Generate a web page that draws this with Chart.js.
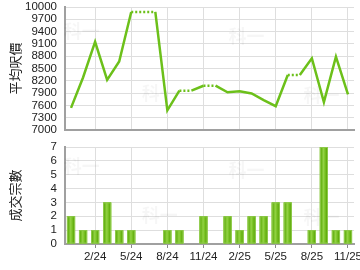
<!DOCTYPE html>
<html><head><meta charset="utf-8">
<script src="https://cdn.jsdelivr.net/npm/chart.js@4/dist/chart.umd.min.js"></script>
<style>
html,body{margin:0;padding:0;background:#fff;}
#wrap{width:360px;height:270px;position:relative;overflow:hidden;}
canvas{display:block;}
</style></head>
<body><div id="wrap">
<canvas id="top" width="360" height="135"></canvas>
<canvas id="bot" width="360" height="135"></canvas>
</div>
<script>
const months = ['12/23','1/24','2/24','3/24','4/24','5/24','6/24','7/24','8/24','9/24','10/24','11/24',
                '12/24','1/25','2/25','3/25','4/25','5/25','6/25','7/25','8/25','9/25','10/25','11/25'];
const avgPrice = [7540, 8280, 9150, 8220, 8670, 9880, null, null, 7480, 7960, null, 8080,
                  null, 7920, 7945, 7890, 7730, 7580, 8340, null, 8750, 7680, 8790, 7870];
const deals = [2,1,1,3,1,1,0,0,1,1,0,2,0,2,1,2,2,3,3,0,1,7,1,1];
const priceTicks = [7000,7300,7600,7900,8200,8500,8800,9100,9400,9700,10000];
const dealTicks = [0,1,2,3,4,5,6,7];
const priceTitle = '平均呎價';
const dealTitle = '成交宗數';

// months without deals carry the last price forward (drawn dotted)
const priceLine = [];
avgPrice.forEach((v,i)=>{ priceLine.push(v === null ? priceLine[i-1] : v); });

const tickFont = {family:'"Liberation Sans", Arial, sans-serif', size:11.5};
const titleFont = {family:'"Noto Sans CJK TC", sans-serif', size:13};
const gridCol = '#dedede';
const axisCol = '#a0a0a0';
const showTick = i => (i - 2) % 3 === 0;

const watermark = {
  id:'wm',
  beforeDatasetsDraw(chart){
    const c = chart.ctx, a = chart.chartArea;
    c.save();
    c.font = 'bold 18px "Noto Sans CJK TC", sans-serif';
    c.fillStyle = 'rgba(0,0,0,0.035)';
    c.textAlign = 'center'; c.textBaseline = 'middle';
    const w = a.right - a.left, h = a.bottom - a.top;
    [[0.03,0.2],[0.3,0.7],[0.6,0.24],[0.86,0.72]].forEach(p=>{
      c.fillText('科一', a.left + p[0]*w + 8, a.top + p[1]*h);
    });
    c.restore();
  }
};

const barShade = {
  id:'barShade',
  afterDatasetsDraw(chart){
    const meta = chart.getDatasetMeta(0);
    const c = chart.ctx;
    c.save();
    meta.data.forEach(el=>{
      const p = el.getProps(['x','y','base','width'], true);
      if (Math.abs(p.base - p.y) < 0.5) return;
      const l = p.x - p.width/2, r = p.x + p.width/2;
      const g = c.createLinearGradient(l,0,r,0);
      g.addColorStop(0,'#a8dc60');
      g.addColorStop(0.15,'#62b010');
      g.addColorStop(0.45,'#92d243');
      g.addColorStop(0.62,'#7cc428');
      g.addColorStop(0.85,'#5eab0a');
      g.addColorStop(1,'#a8dc60');
      c.fillStyle = g;
      c.fillRect(l, p.y, r-l, p.base - p.y);
      c.strokeStyle = '#8cc84a';
      c.lineWidth = 1;
      c.strokeRect(l+0.5, p.y+0.5, r-l-1, p.base-p.y-1);
    });
    c.restore();
  }
};

const yFit = w => s => { s.width = w; s.paddingTop = 0; s.paddingBottom = 0; };

new Chart(document.getElementById('top'), {
  type:'line',
  data:{labels:months, datasets:[{
    data:priceLine,
    borderColor:'#6cc01a', borderWidth:2.5, pointRadius:0, tension:0,
    borderCapStyle:'butt',
    segment:{ borderDash: ctx => avgPrice[ctx.p1DataIndex] === null ? [2,2] : undefined }
  }]},
  options:{
    responsive:false, animation:false,
    layout:{padding:{top:7,right:6,bottom:5,left:0}},
    plugins:{legend:{display:false}, tooltip:{enabled:false}},
    scales:{
      x:{offset:true,
         grid:{offset:false, drawTicks:false, color:c=>showTick(c.index)?gridCol:'rgba(0,0,0,0)'},
         border:{color:axisCol, width:2},
         ticks:{display:false, autoSkip:false},
         afterFit:s=>{s.height=0; s.paddingLeft=0; s.paddingRight=0;}},
      y:{min:7000,max:10000,
         afterBuildTicks:s=>{s.ticks = priceTicks.map(v=>({value:v}));},
         grid:{drawTicks:false, color:gridCol},
         border:{color:axisCol, width:2},
         ticks:{font:tickFont, color:'#222', padding:8, autoSkip:false, callback:v=>String(v)},
         title:{display:true, text:priceTitle, font:titleFont, color:'#222', padding:{top:7,bottom:0}},
         afterFit:yFit(65)}
    }
  },
  plugins:[watermark]
});

new Chart(document.getElementById('bot'), {
  type:'bar',
  data:{labels:months, datasets:[{
    data:deals, backgroundColor:'#76be20', borderWidth:0,
    categoryPercentage:1, barPercentage:0.68
  }]},
  options:{
    responsive:false, animation:false,
    layout:{padding:{top:12,right:6,bottom:6,left:0}},
    plugins:{legend:{display:false}, tooltip:{enabled:false}},
    scales:{
      x:{offset:true,
         grid:{offset:false, tickLength:4, color:c=>showTick(c.index)?gridCol:'rgba(0,0,0,0)',
               tickColor:c=>showTick(c.index)?'#888':'rgba(0,0,0,0)'},
         border:{color:axisCol, width:2},
         ticks:{font:tickFont, color:'#222', autoSkip:false, maxRotation:0, padding:2,
                callback:(v,i)=>showTick(i)?months[i]:''},
         afterFit:s=>{s.height=20; s.paddingLeft=0; s.paddingRight=0;}},
      y:{min:0,max:7,
         afterBuildTicks:s=>{s.ticks = dealTicks.map(v=>({value:v}));},
         grid:{drawTicks:false, color:gridCol},
         border:{color:axisCol, width:2},
         ticks:{font:tickFont, color:'#222', padding:8, autoSkip:false, callback:v=>String(v)},
         title:{display:true, text:dealTitle, font:titleFont, color:'#222', padding:{top:7,bottom:0}},
         afterFit:yFit(65)}
    }
  },
  plugins:[watermark, barShade]
});
</script>
</body></html>
